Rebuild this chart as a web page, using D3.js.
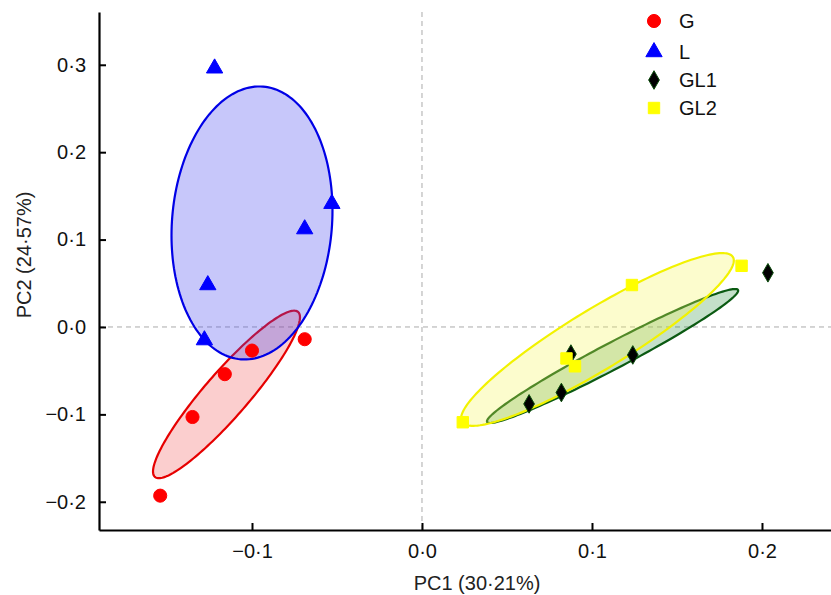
<!DOCTYPE html>
<html>
<head>
<meta charset="utf-8">
<script src="https://cdn.jsdelivr.net/npm/d3@7"></script>
<style>
  body { margin: 0; background: #fff; }
  svg { display: block; font-family: "Liberation Sans", Arial, sans-serif; }
</style>
</head>
<body>
<svg id="chart" width="831" height="595"></svg>
<script>
// PCA scores, one array per group
const groups = ['G', 'L', 'GL1', 'GL2'];

const scoresG = [
  [-0.154, -0.193], [-0.135, -0.103], [-0.116, -0.054], [-0.100, -0.027], [-0.069, -0.014]
];
const scoresL = [
  [-0.122, 0.296], [-0.069, 0.112], [-0.053, 0.141], [-0.126, 0.048], [-0.128, -0.015]
];
const scoresGL1 = [
  [0.2035, 0.062], [0.124, -0.032], [0.0876, -0.031], [0.082, -0.075], [0.063, -0.088]
];
const scoresGL2 = [
  [0.188, 0.070], [0.1235, 0.048], [0.085, -0.036], [0.090, -0.045], [0.024, -0.109]
];

// confidence ellipses: centre + two conjugate semi-axis vectors, in data units
const ellipseG   = { c: [-0.115, -0.0772], a: [0.0421, 0.0944], b: [0.0098, -0.0165] };
const ellipseL   = { c: [-0.100, 0.119],   a: [0.0065, 0.156],  b: [0.0469, -0.0073] };
const ellipseGL1 = { c: [0.1121, -0.0332], a: [0.0738, 0.0755], b: [0.0036, -0.0132] };
const ellipseGL2 = { c: [0.1032, -0.0143], a: [0.0797, 0.0944], b: [0.0092, -0.0293] };

const xTicks = [-0.1, 0.0, 0.1, 0.2];
const yTicks = [-0.2, -0.1, 0.0, 0.1, 0.2, 0.3];

const style = {
  G:   { fill: '#ff0000', stroke: '#ff0000', eFill: 'rgba(240,60,60,0.25)', eStroke: '#e60000', symbol: d3.symbolCircle, size: 135 },
  L:   { fill: '#0000ff', stroke: '#0000ff', eFill: 'rgba(70,70,240,0.3)', eStroke: '#0000e6', symbol: d3.symbolTriangle, size: 115 },
  GL1: { fill: '#000000', stroke: '#0b4d0b', eFill: 'rgba(20,130,40,0.25)', eStroke: '#0b5a12', symbol: d3.symbolDiamond, size: 100 },
  GL2: { fill: '#ffff00', stroke: '#ffff00', eFill: 'rgba(245,245,90,0.3)', eStroke: '#f2f200', symbol: d3.symbolSquare, size: 130 }
};
const scores = { G: scoresG, L: scoresL, GL1: scoresGL1, GL2: scoresGL2 };
const ellipses = { G: ellipseG, L: ellipseL, GL1: ellipseGL1, GL2: ellipseGL2 };

const svg = d3.select('#chart');
const x = d3.scaleLinear().domain([-0.19, 0.2406]).range([99, 831]);
const y = d3.scaleLinear().domain([-0.2323, 0.3604]).range([530, 12]);

const fmt = (v) => d3.format('.1f')(v).replace('.', '·').replace('-', '−');

// dashed zero lines
svg.append('line')
  .attr('x1', x(0)).attr('x2', x(0)).attr('y1', y.range()[1]).attr('y2', y.range()[0])
  .attr('stroke', '#aaa').attr('stroke-dasharray', '5,4');
svg.append('line')
  .attr('x1', x.range()[0]).attr('x2', x.range()[1]).attr('y1', y(0)).attr('y2', y(0))
  .attr('stroke', '#aaa').attr('stroke-dasharray', '5,4');

// ellipses
const steps = d3.range(0, 2 * Math.PI + 0.001, Math.PI / 90);
const line = d3.line();
for (const g of groups) {
  const e = ellipses[g];
  const pts = steps.map((t) => [
    x(e.c[0] + e.a[0] * Math.cos(t) + e.b[0] * Math.sin(t)),
    y(e.c[1] + e.a[1] * Math.cos(t) + e.b[1] * Math.sin(t))
  ]);
  svg.append('path')
    .attr('d', line(pts) + 'Z')
    .attr('fill', style[g].eFill)
    .attr('stroke', style[g].eStroke)
    .attr('stroke-width', 2.2);
}

// points
for (const g of groups) {
  const s = style[g];
  svg.append('g').selectAll('path')
    .data(scores[g])
    .join('path')
    .attr('transform', (d) => `translate(${x(d[0])},${y(d[1])})`)
    .attr('d', d3.symbol(s.symbol, s.size))
    .attr('fill', s.fill)
    .attr('stroke', s.stroke)
    .attr('stroke-width', 1);
}

// axes
const xAxis = d3.axisBottom(x).tickValues(xTicks).tickFormat(fmt)
  .tickSizeInner(-7).tickSizeOuter(0).tickPadding(14);
const yAxis = d3.axisLeft(y).tickValues(yTicks).tickFormat(fmt)
  .tickSizeInner(-7).tickSizeOuter(0).tickPadding(13);

const gx = svg.append('g').attr('transform', `translate(0,${y.range()[0]})`).call(xAxis);
const gy = svg.append('g').attr('transform', `translate(${x.range()[0]},0)`).call(yAxis);
for (const ax of [gx, gy]) {
  ax.select('.domain').attr('stroke', '#000').attr('stroke-width', 2.2);
  ax.selectAll('.tick line').attr('stroke', '#000').attr('stroke-width', 2);
  ax.selectAll('.tick text').attr('font-size', 20).attr('fill', '#111')
    .attr('font-family', '"Liberation Sans", Arial, sans-serif');
}

svg.append('text')
  .attr('x', 477).attr('y', 590)
  .attr('text-anchor', 'middle').attr('font-size', 20).attr('fill', '#222')
  .text('PC1 (30·21%)');
svg.append('text')
  .attr('transform', 'translate(31,255) rotate(-90)')
  .attr('text-anchor', 'middle').attr('font-size', 20).attr('fill', '#222')
  .text('PC2 (24·57%)');

// legend
const legend = svg.append('g').attr('transform', 'translate(654,21)');
const rows = legend.selectAll('g').data(groups).join('g')
  .attr('transform', (d, i) => `translate(0,${[0, 31, 59, 87][i]})`);
rows.append('path')
  .attr('d', (d) => d3.symbol(style[d].symbol, style[d].size)())
  .attr('fill', (d) => style[d].fill)
  .attr('stroke', (d) => style[d].stroke);
rows.append('text')
  .attr('x', 25).attr('dy', '0.36em')
  .attr('font-size', 20).attr('fill', '#111')
  .text((d) => d);
</script>
</body>
</html>
